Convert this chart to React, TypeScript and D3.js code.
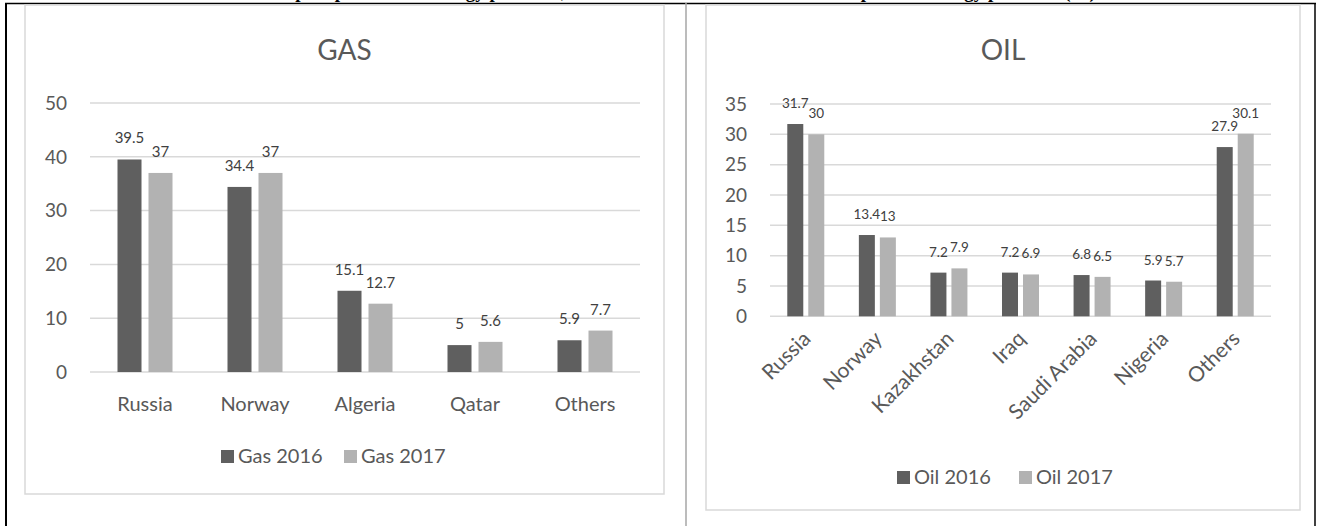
import React from "react";
import * as d3 from "d3";

// Gas import shares (%)
const gasCategories = ["Russia", "Norway", "Algeria", "Qatar", "Others"];
const gas2016 = [39.5, 34.4, 15.1, 5, 5.9];
const gas2017 = [37, 37, 12.7, 5.6, 7.7];
const gasTicks = [0, 10, 20, 30, 40, 50];

// Oil import shares (%)
const oilCategories = ["Russia", "Norway", "Kazakhstan", "Iraq", "Saudi Arabia", "Nigeria", "Others"];
const oil2016 = [31.7, 13.4, 7.2, 7.2, 6.8, 5.9, 27.9];
const oil2017 = [30, 13, 7.9, 6.9, 6.5, 5.7, 30.1];
const oilTicks = [0, 5, 10, 15, 20, 25, 30, 35];

const DARK = "#5f5f5f";
const LIGHT = "#b2b2b2";
const GRID = "#d9d9d9";
const TEXT = "#595959";
const FONT = "Lato, 'Open Sans', sans-serif";

type PanelProps = {
  title: string;
  categories: string[];
  s1: number[];
  s2: number[];
  names: [string, string];
  ticks: number[];
  box: { x0: number; x1: number; y0: number; y1: number };
  plot: { x0: number; x1: number; yBase: number; yTop: number };
  group: number; // width of the bar pair inside each band
  barGap: number;
  titleY: number;
  labelY: number;
  labelSize: number;
  valueSize: number;
  rotate: boolean;
  legend: { x: number; y: number; gap: number };
};

function Panel(p: PanelProps) {
  const max = p.ticks[p.ticks.length - 1];
  const y = d3.scaleLinear().domain([0, max]).range([p.plot.yBase, p.plot.yTop]);
  const n = p.categories.length;
  const step = (p.plot.x1 - p.plot.x0) / n;
  const padIn = 1 - p.group / step;
  const x = d3
    .scaleBand<string>()
    .domain(p.categories)
    .range([p.plot.x0, p.plot.x1])
    .paddingInner(padIn)
    .paddingOuter(padIn / 2);
  const barW = (p.group - p.barGap) / 2;
  const sub = d3
    .scaleBand<string>()
    .domain(["a", "b"])
    .range([0, p.group])
    .paddingInner(p.barGap / (barW + p.barGap));
  const series = [
    { key: "a", values: p.s1, color: DARK },
    { key: "b", values: p.s2, color: LIGHT },
  ];
  const cx = (p.box.x0 + p.box.x1) / 2;

  return (
    <g>
      <rect
        x={p.box.x0}
        y={p.box.y0}
        width={p.box.x1 - p.box.x0}
        height={p.box.y1 - p.box.y0}
        fill="#fff"
        stroke={GRID}
        strokeWidth={1.5}
      />
      <text x={cx} y={p.titleY} textAnchor="middle" fontSize={28} fill={TEXT} fontFamily={FONT}>
        {p.title}
      </text>
      {p.ticks.map((t) => (
        <g key={t}>
          <line x1={p.plot.x0} x2={p.plot.x1} y1={y(t)} y2={y(t)} stroke={GRID} strokeWidth={1.5} />
          <text
            x={p.plot.x0 - 23}
            y={y(t)}
            dy="0.36em"
            textAnchor="end"
            fontSize={19}
            fill={TEXT}
            fontFamily={FONT}
          >
            {t}
          </text>
        </g>
      ))}
      {series.map((s) =>
        p.categories.map((c, i) => {
          const bx = (x(c) as number) + (sub(s.key) as number);
          const v = s.values[i];
          return (
            <g key={s.key + c}>
              <rect x={bx} y={y(v)} width={sub.bandwidth()} height={y(0) - y(v)} fill={s.color} />
              <text
                x={bx + sub.bandwidth() / 2}
                y={y(v) - 16}
                textAnchor="middle"
                fontSize={p.valueSize}
                fill="#404040"
                fontFamily={FONT}
              >
                {v}
              </text>
            </g>
          );
        })
      )}
      {p.categories.map((c) => {
        const mid = (x(c) as number) + x.bandwidth() / 2;
        return p.rotate ? (
          <text
            key={c}
            transform={`translate(${mid + 6},${p.labelY}) rotate(-45)`}
            textAnchor="end"
            fontSize={p.labelSize}
            fill={TEXT}
            fontFamily={FONT}
          >
            {c}
          </text>
        ) : (
          <text key={c} x={mid} y={p.labelY} textAnchor="middle" fontSize={p.labelSize} fill={TEXT} fontFamily={FONT}>
            {c}
          </text>
        );
      })}
      <g>
        <rect x={p.legend.x} y={p.legend.y - 13} width={13} height={13} fill={DARK} />
        <text x={p.legend.x + 17} y={p.legend.y} fontSize={20} fill={TEXT} fontFamily={FONT}>
          {p.names[0]}
        </text>
        <rect x={p.legend.x + p.legend.gap} y={p.legend.y - 13} width={13} height={13} fill={LIGHT} />
        <text x={p.legend.x + p.legend.gap + 17} y={p.legend.y} fontSize={20} fill={TEXT} fontFamily={FONT}>
          {p.names[1]}
        </text>
      </g>
    </g>
  );
}

export default function App() {
  return (
    <svg
      width={1322}
      height={526}
      style={{ position: "absolute", left: 0, top: 0, background: "#fff" }}
    >
      {/* document heading, clipped at the top edge */}
      <text
        x={661}
        y={-2}
        textAnchor="middle"
        fontSize={19}
        fontWeight="bold"
        fontFamily="'Liberation Serif', 'Times New Roman', serif"
        fill="#000"
      >
        Main import partners of energy products, 2016 and 2017: share in total EU imports of energy products (%)
      </text>
      {/* table borders */}
      <line x1={5} x2={1316} y1={3.5} y2={3.5} stroke="#000" strokeWidth={1.5} />
      <line x1={6} x2={6} y1={3} y2={526} stroke="#000" strokeWidth={2} />
      <line x1={686} x2={686} y1={3} y2={526} stroke="#a6a6a6" strokeWidth={1.5} />
      <line x1={1315} x2={1315} y1={3} y2={526} stroke="#000" strokeWidth={1.5} />

      <Panel
        title="GAS"
        categories={gasCategories}
        s1={gas2016}
        s2={gas2017}
        names={["Gas 2016", "Gas 2017"]}
        ticks={gasTicks}
        box={{ x0: 25, x1: 664, y0: 5, y1: 494 }}
        plot={{ x0: 90, x1: 640, yBase: 372, yTop: 103 }}
        group={55}
        barGap={7}
        titleY={60}
        labelY={411}
        labelSize={20}
        valueSize={15}
        rotate={false}
        legend={{ x: 221, y: 463, gap: 123 }}
      />
      <Panel
        title="OIL"
        categories={oilCategories}
        s1={oil2016}
        s2={oil2017}
        names={["Oil 2016", "Oil 2017"]}
        ticks={oilTicks}
        box={{ x0: 706, x1: 1300, y0: 5, y1: 510 }}
        plot={{ x0: 770, x1: 1271, yBase: 316.3, yTop: 104 }}
        group={37}
        barGap={5}
        titleY={60}
        labelY={340}
        labelSize={21}
        valueSize={13.5}
        rotate={true}
        legend={{ x: 897, y: 484, gap: 122 }}
      />
    </svg>
  );
}
